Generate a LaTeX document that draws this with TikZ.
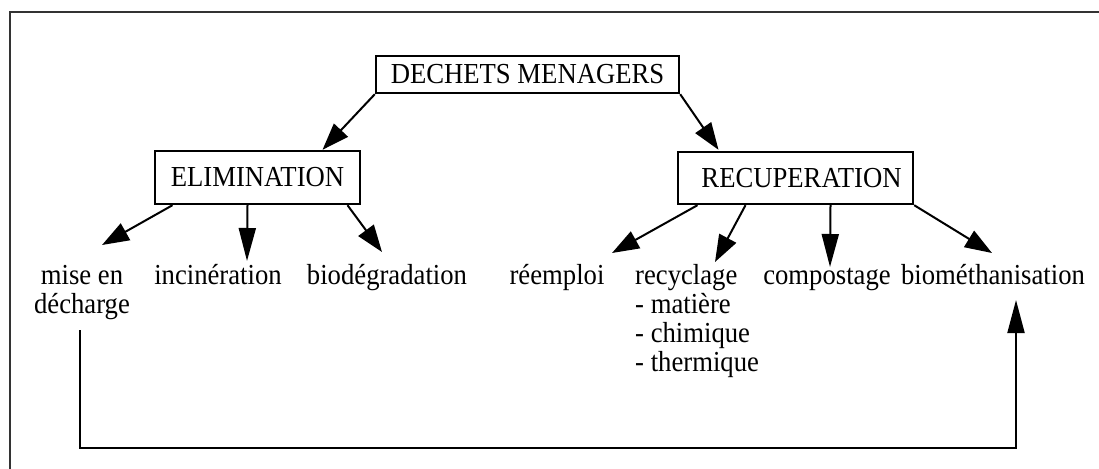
\documentclass[tikz,border=0pt]{standalone}
\usepackage{fontspec}
\setmainfont{Liberation Serif}[FakeStretch=0.92]
\usetikzlibrary{arrows.meta,calc}

\begin{document}
\begin{tikzpicture}[x=1pt,y=-1pt,
  every node/.style={inner sep=0pt, font=\fontsize{29}{29}\selectfont},
  box/.style={draw, line width=2.4pt},
  leaf/.style={anchor=base},
  arr/.style={line width=2pt, -{Triangle[length=27pt,width=19pt]}},
  arrlong/.style={line width=2pt, -{Triangle[length=33pt,width=17pt]}},
  frame/.style={line width=2pt, draw=black!80}]

  \useasboundingbox (0,0) rectangle (1099,468);
  \clip (0,0) rectangle (1099,468);

  % outer frame
  \draw[frame] (10,12) rectangle (1120,490);

  % boxes
  \node[box, minimum width=303pt, minimum height=37pt] (dm) at (527.5,74.5) {DECHETS MENAGERS};
  \node[box, minimum width=205pt, minimum height=53pt] (elim) at (257.5,177.5) {ELIMINATION};
  \node[box, minimum width=235pt, minimum height=52pt] (recup) at (795.5,178) {\hspace*{12pt}RECUPERATION};

  % leaves of ELIMINATION
  \node[leaf] (mise) at (82,284) {\begin{tabular}[t]{@{}c@{}}mise en\\décharge\end{tabular}};
  \node[leaf] (incin) at (218,284) {incinération};
  \node[leaf] (biod) at (387,284) {biodégradation};

  % leaves of RECUPERATION
  \node[leaf] (reemp) at (557,284) {réemploi};
  \node[anchor=base west] (recyc) at (635,284) {\begin{tabular}[t]{@{}l@{}}recyclage\\- matière\\- chimique\\- thermique\end{tabular}};
  \node[leaf] (compo) at (827,284) {compostage};
  \node[leaf] (biom) at (993,284) {biométhanisation};

  % top level
  \draw[arr] (dm.south west) -- ($(elim.north)+(65,0)$);
  \draw[arr] (dm.south east) -- ($(recup.north)+(-77,-1)$);

  % elimination branches
  \draw[arr] ($(elim.south)+(-85,0)$) -- ($(mise.base)+(20,-39)$);
  \draw[arrlong] ($(elim.south)+(-10,0)$) -- ($(incin.base)+(29,-23)$);
  \draw[arr] ($(elim.south)+(90,0)$) -- ($(biod.base)+(-5,-32)$);

  % recuperation branches
  \draw[arr] ($(recup.south)+(-98,0)$) -- ($(reemp.base)+(55,-31)$);
  \draw[arr] ($(recup.south)+(-50,0)$) -- ($(recyc.base west)+(80,-22)$);
  \draw[arrlong] ($(recup.south)+(35,0)$) -- ($(compo.base)+(3,-17)$);
  \draw[arr] (recup.south east) -- ($(biom.base)+(-1,-31)$);

  % landfill feeding biomethanisation
  \draw[arrlong] ($(mise.base)+(-2,46)$) |- ($(biom.base)+(23,164)$) -- ($(biom.base)+(23,16)$);
\end{tikzpicture}
\end{document}
